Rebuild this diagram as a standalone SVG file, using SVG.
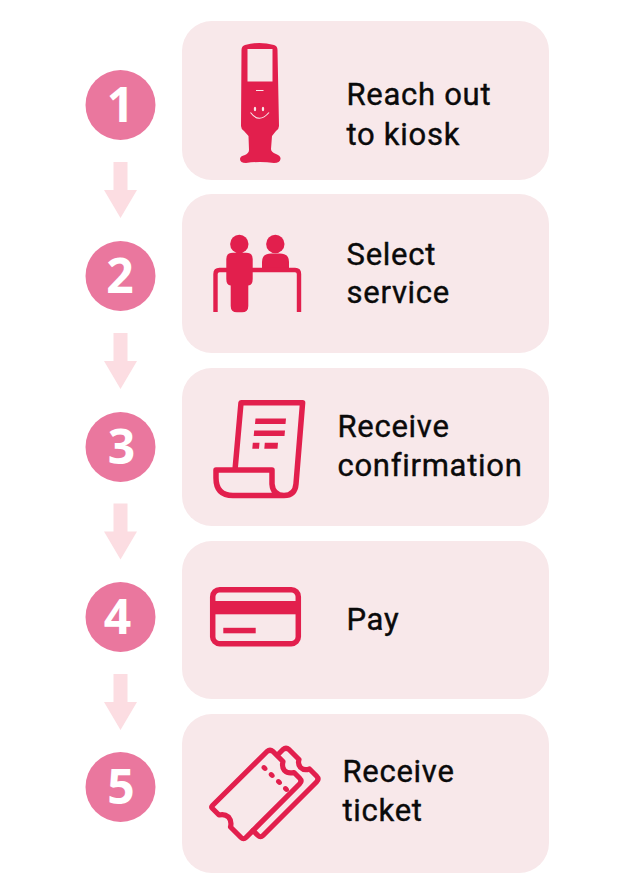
<svg xmlns="http://www.w3.org/2000/svg" width="630" height="890" viewBox="0 0 630 890">
<style>
.card{fill:#f8e8ea}
.badge{fill:#ea779e}
.num{fill:#fff;font-family:"Open Sans",sans-serif;font-weight:700;font-size:48px;text-anchor:middle}
.lbl{fill:#0a0a0a;font-family:Roboto,sans-serif;font-weight:400;font-size:31px;letter-spacing:.72px;stroke:#0a0a0a;stroke-width:.4px}
.ink{fill:#e21f4d}
.ln{fill:none;stroke:#e21f4d;stroke-width:5.5;stroke-linejoin:round}
.tk{fill:none;stroke:#e21f4d;stroke-width:5.2;stroke-linejoin:round;stroke-linecap:round}
.arrow{fill:#fcdde2}
</style>
<rect width="630" height="890" fill="#fff"/>
<g id="connectors">
<path class="arrow" d="M113.500 162h14v28h9.500l-16.500 28-16.500-28h9.500z"/>
<path class="arrow" d="M113.500 333h14v28h9.500l-16.500 28-16.500-28h9.500z"/>
<path class="arrow" d="M113.500 503.500h14v28h9.500l-16.500 28-16.500-28h9.500z"/>
<path class="arrow" d="M113.500 674h14v28h9.500l-16.500 28-16.500-28h9.500z"/>
</g>
<g id="step1">
<circle class="badge" cx="120.500" cy="105" r="35"/>
<text class="num" x="120.500" y="121.500">1</text>
<rect class="card" x="182" y="21" width="367" height="159" rx="30"/>
<path class="ink" d="M241.500 50Q241.500 46 245 45Q259 41 274 45Q277.500 46 277.500 50L279 126Q279 129 276 131L272 136L271 149Q271 152 276 154Q281 156 280.500 159Q280 163 274 163Q260 161 246 163Q240 163 240 159Q240 156 245 155Q249 153 249 150L248.500 136L244 131Q241 129 241 126Z"/>
<rect x="247.500" y="49" width="25" height="32.500" fill="#f8e8ea"/>
<rect x="256" y="90" width="7.500" height="1" fill="#f8e8ea"/>
<ellipse cx="255" cy="109" rx="1.200" ry="2.200" fill="#f8e8ea"/>
<ellipse cx="263" cy="109" rx="1.200" ry="2.200" fill="#f8e8ea"/>
<path d="M250.500 112.500Q259 124 269 112.500" fill="none" stroke="#f8e8ea" stroke-width="1.100"/>
<text class="lbl" x="346.500" y="105">Reach out</text>
<text class="lbl" x="346.500" y="145">to kiosk</text>
</g>
<g id="step2">
<circle class="badge" cx="120.500" cy="276" r="35"/>
<text class="num" x="120" y="292.500">2</text>
<rect class="card" x="182" y="194" width="367" height="159" rx="30"/>
<circle class="ink" cx="239.300" cy="244" r="9.200"/>
<circle class="ink" cx="275.300" cy="244" r="9.200"/>
<path class="ink" d="M262 268V262Q262 253.500 271 253.500H280Q289 253.500 289 262V268Z"/>
<path class="ln" style="stroke-width:4.400" d="M215.500 312V274Q215.500 270 219.500 270H295Q299 270 299 274V312"/>
<path class="ink" d="M226.300 259Q226.300 252.700 233 252.700H246Q252.700 252.700 252.700 259V279Q252.700 285 248.300 285.500V306Q248.300 312.300 242 312.300H237Q230.700 312.300 230.700 306V285.500Q226.300 285 226.300 279Z"/>
<text class="lbl" x="346.500" y="265">Select</text>
<text class="lbl" x="346.500" y="303">service</text>
</g>
<g id="step3">
<circle class="badge" cx="120.500" cy="447" r="35"/>
<text class="num" x="121.500" y="463.500">3</text>
<rect class="card" x="182" y="368" width="367" height="158" rx="30"/>
<path class="ln" d="M235 470L241 402.800H302.600L296 484Q295 495.500 284 495.500Q273 495.500 272 484V470H216V478Q216 495.500 233 495.500H284"/>
<path class="ink" d="M255.500 418.500H286L285.500 424H255ZM254.200 430.500H285L284.500 436H253.700ZM252.800 442.800H259.500L259 448.700H252.300ZM264.800 442.800H278L277.500 448.700H264.300Z"/>
<text class="lbl" x="337.500" y="437">Receive</text>
<text class="lbl" x="337.500" y="476">confirmation</text>
</g>
<g id="step4">
<circle class="badge" cx="120.500" cy="617" r="35"/>
<text class="num" x="117.500" y="633.500">4</text>
<rect class="card" x="182" y="541" width="367" height="158" rx="30"/>
<rect class="ln" x="212.700" y="589.700" width="85.600" height="54" rx="7"/>
<rect class="ink" x="211" y="601" width="89" height="13.300"/>
<rect class="ink" x="223.300" y="627.800" width="32.400" height="5.500"/>
<text class="lbl" x="346.500" y="630">Pay</text>
</g>
<g id="step5">
<circle class="badge" cx="120.500" cy="787" r="35"/>
<text class="num" x="121" y="803.500">5</text>
<rect class="card" x="182" y="714" width="367" height="159" rx="30"/>
<path class="tk" d="M212.500 805.500L267 751.500Q270 749 273 751.500L283 761.500Q281.500 767 284.500 770.500Q288 774 294 772.500L299.500 778Q302.500 781 299.500 784L246 837.500Q243.500 840 241 837.500L230.500 827Q232 821 228.500 817Q224.500 813.500 219 815L212.500 808.500Q211 807 212.500 805.500Z"/>
<path class="tk" d="M279 753.500L283 749.500Q286 747 289 749.500L299 759.500Q297.500 764 300.500 767.500Q304 771 309.500 769L316.500 776Q319.500 779 316.500 782L263 835.500Q260.500 838 258 835.500L253 830.500"/>
<g class="ink"><ellipse cx="264.500" cy="768" rx="3.300" ry="2.500" transform="rotate(45 264.500 768)"/><ellipse cx="271.700" cy="775" rx="3.300" ry="2.500" transform="rotate(45 271.700 775)"/><ellipse cx="279" cy="782" rx="3.300" ry="2.500" transform="rotate(45 279 782)"/><ellipse cx="286" cy="789" rx="3.300" ry="2.500" transform="rotate(45 286 789)"/></g>
<text class="lbl" x="342.500" y="782">Receive</text>
<text class="lbl" x="342.500" y="821">ticket</text>
</g>
</svg>
